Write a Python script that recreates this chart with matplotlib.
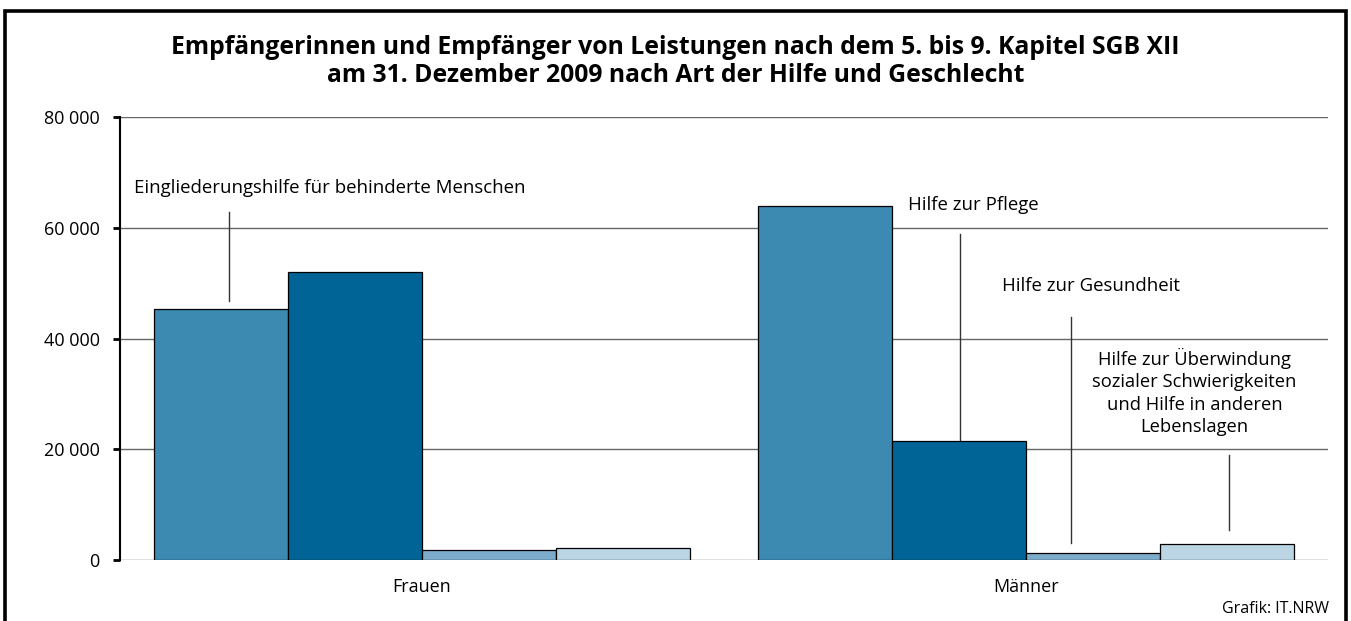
import numpy as np
import matplotlib
matplotlib.use("Agg")
import matplotlib.pyplot as plt
from matplotlib.patches import Rectangle

plt.rcParams['font.family'] = ['Open Sans', 'DejaVu Sans']

groups = ["Frauen", "Männer"]
hilfe = ["Eingliederungshilfe für behinderte Menschen", "Hilfe zur Pflege",
         "Hilfe zur Gesundheit",
         "Hilfe zur Überwindung\nsozialer Schwierigkeiten\nund Hilfe in anderen\nLebenslagen"]
frauen = [45300, 52000, 1800, 2100]
maenner = [63900, 21500, 1300, 2900]
colors = ["#3c89b1", "#006596", "#7cabcc", "#bcd5e5"]
yticks = [0, 20000, 40000, 60000, 80000]
ytick_labels = ["0", "20 000", "40 000", "60 000", "80 000"]

fig = plt.figure(figsize=(13.51, 6.21), dpi=100)
ax = fig.add_axes([0.0888, 0.0982, 0.8942, 0.7134])

x = np.arange(len(groups))
w = 0.222
for i in range(4):
    vals = [frauen[i], maenner[i]]
    ax.bar(x + (i - 1.5) * w, vals, w, color=colors[i], edgecolor="black",
           linewidth=0.9, zorder=3)

ax.set_xlim(-0.5, 1.5)
ax.set_ylim(0, 80000)
ax.set_yticks(yticks)
ax.set_yticklabels(ytick_labels, fontsize=13)
ax.set_xticks(x)
ax.set_xticklabels(groups, fontsize=13)
ax.tick_params(axis="x", length=0, pad=13)
ax.tick_params(axis="y", length=5, width=2, pad=9.5)
ax.grid(axis="y", color="#666666", linewidth=1.0, zorder=0)
for s in ["top", "right", "bottom"]:
    ax.spines[s].set_visible(False)
ax.spines["left"].set_linewidth(1.5)

# labels for the kind of help, with pointer lines
ax.text(-0.477, 67200, hilfe[0], fontsize=13.4, va="center", ha="left")
ax.plot([-0.320, -0.320], [46773, 62845], color="#333333", lw=1, zorder=4)
ax.text(0.804, 64100, hilfe[1], fontsize=13.4, va="center", ha="left")
ax.plot([0.890, 0.890], [21670, 58870], color="#333333", lw=1, zorder=4)
ax.text(0.961, 49480, hilfe[2], fontsize=13.4, va="center", ha="left")
ax.plot([1.075, 1.075], [3070, 43880], color="#333333", lw=1, zorder=4)
ax.text(1.279, 30340, hilfe[3], fontsize=13.2, va="center", ha="center",
        linespacing=1.3)
ax.plot([1.336, 1.336], [5420, 18960], color="#333333", lw=1, zorder=4)

fig.text(0.5, 0.901, "Empfängerinnen und Empfänger von Leistungen nach dem 5. bis 9. Kapitel SGB XII\n"
         "am 31. Dezember 2009 nach Art der Hilfe und Geschlecht",
         ha="center", va="center", fontsize=17.8, fontweight="bold", linespacing=1.2)
fig.text(0.984, 0.02, "Grafik: IT.NRW", ha="right", va="center", fontsize=11.5)

fig.patches.append(Rectangle((0.0037, -0.05), 0.9926, 1.0323, transform=fig.transFigure,
                             fill=False, edgecolor="black", linewidth=2.6))

fig.savefig("out.png", dpi=100)
